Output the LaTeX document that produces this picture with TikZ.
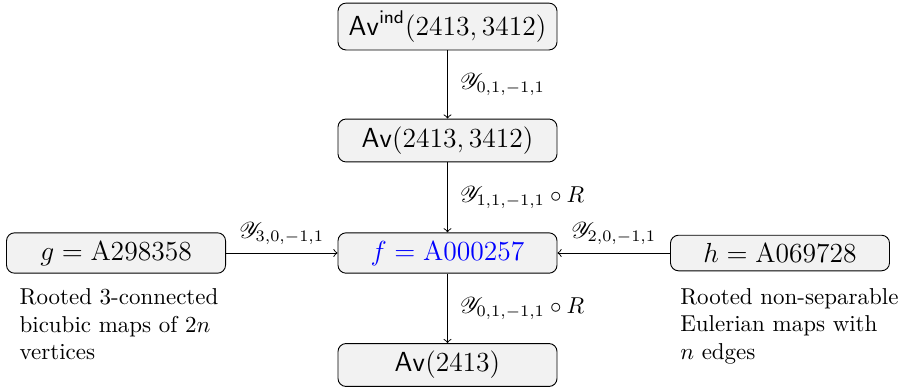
\documentclass[tikz,border=0pt]{standalone}
\usepackage{amsmath,mathrsfs}
\usetikzlibrary{positioning}
\tikzset{
  seqbox/.style={draw, rounded corners=3.5pt, fill=black!5, font=\large,
    minimum width=3.35cm},
  desc/.style={align=left, anchor=north west, inner sep=0pt}
}
\begin{document}
\begin{tikzpicture}[>=to]
  \useasboundingbox (-6.845,-2.080) rectangle (6.906,3.870);
  \node[seqbox] (f) at (0,0) {\color{blue}$f = \text{A000257}$};
  \node[seqbox] (ind) at (0,3.464) {$\mathsf{Av}^{\mathsf{ind}}(2413,3412)$};
  \node[seqbox] (av2) at (0,1.721) {$\mathsf{Av}(2413,3412)$};
  \node[seqbox] (av1) at (0,-1.713) {$\mathsf{Av}(2413)$};
  \node[seqbox] (g) at (-5.070,0) {$g = \text{A298358}$};
  \node[seqbox] (h) at (5.086,0) {$h = \text{A069728}$};

  \draw[->] (ind) -- node[right=2pt] {$\mathscr{Y}_{0,1,-1,1}$} (av2);
  \draw[->] (av2) -- node[right=2pt] {$\mathscr{Y}_{1,1,-1,1}\circ R$} (f);
  \draw[->] (f) -- node[right=2pt] {$\mathscr{Y}_{0,1,-1,1}\circ R$} (av1);
  \draw[->] (g) -- node[above] {$\mathscr{Y}_{3,0,-1,1}$} (f);
  \draw[->] (h) -- node[above] {$\mathscr{Y}_{2,0,-1,1}$} (f);

  % descriptions
  \node[desc] (gdesc) at ([xshift=0.2cm,yshift=-0.22cm]g.south west)
    {Rooted 3-connected\\bicubic maps of $2n$\\vertices};
  \node[desc] (hdesc) at ([xshift=0.15cm,yshift=-0.25cm]h.south west)
    {Rooted non-separable\\Eulerian maps with\\$n$ edges};
\end{tikzpicture}
\end{document}
